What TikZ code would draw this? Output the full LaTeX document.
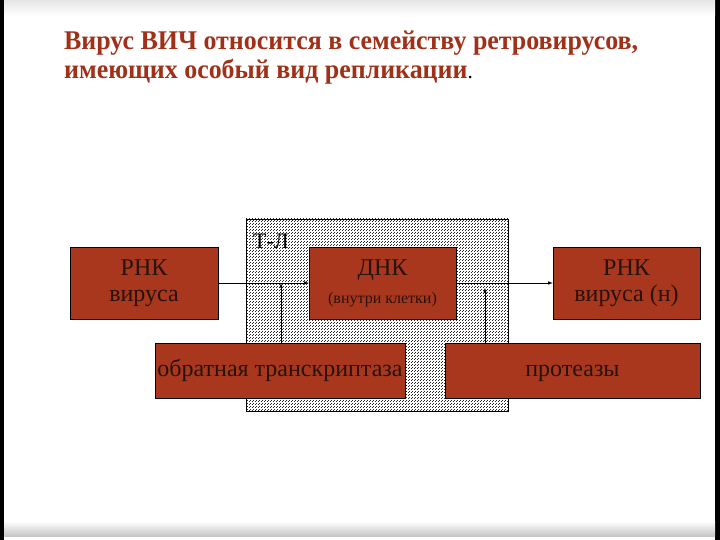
\documentclass[tikz,border=0pt]{standalone}
\usepackage{fontspec}
\setmainfont{Liberation Serif}
\newfontfamily\titlefont[FakeStretch=0.96]{Liberation Serif}
\usetikzlibrary{positioning,patterns}
\definecolor{brick}{RGB}{168,55,30}
\definecolor{titlered}{RGB}{160,48,24}
\definecolor{boxtext}{RGB}{40,18,12}
\pgfdeclarepatternformonly{celldots}{\pgfqpoint{0pt}{0pt}}{\pgfqpoint{3pt}{3pt}}{\pgfqpoint{3pt}{3pt}}{%
  \pgfpathrectangle{\pgfqpoint{0pt}{0pt}}{\pgfqpoint{1pt}{1pt}}%
  \pgfpathrectangle{\pgfqpoint{1.5pt}{1.5pt}}{\pgfqpoint{1pt}{1pt}}%
  \pgfusepath{fill}}
\tikzset{block/.style={draw=black,fill=brick,text=boxtext,align=center,inner sep=0pt,
                       font=\fontsize{24}{29}\selectfont},
         cellbox/.style={draw=black,thin,preaction={fill=white},pattern=celldots,pattern color=black!85}
}
\tikzstyle{arrow} = [semithick,-latex]

\begin{document}
\begin{tikzpicture}[x=1pt,y=-1pt]
\useasboundingbox (0,0) rectangle (720,540);
% slide frame
\fill[black] (0,0) rectangle (4,540);
\fill[black] (715,0) rectangle (720,540);
\shade[top color=gray!20,bottom color=white] (4,0) rectangle (715,16);
\shade[top color=white,bottom color=gray!45] (4,521) rectangle (715,536);

\node[anchor=north west,inner sep=0pt,align=left,text=titlered,
      font=\titlefont\bfseries\fontsize{27}{29}\selectfont] (title) at (64,31)
  {Вирус ВИЧ относится в семейству ретровирусов,\\
   имеющих особый вид репликации{\color{black}\mdseries\fontsize{22}{29}\selectfont.}};

\node[cellbox,minimum width=262,minimum height=192] (cell) at (377,315) {};
\node[anchor=north west,inner sep=0pt,font=\fontsize{22}{26}\selectfont] (tl) at (253,234) {Т-Л};

\node[block,minimum width=148,minimum height=72] (rnk) at (144,283) {\raisebox{-3pt}{РНК}\\вируса};
\node[block,minimum width=147,minimum height=72] (dnk) at (382.5,283)
  {\raisebox{-3pt}{ДНК}\\[2pt]{\fontsize{16}{18}\selectfont (внутри клетки)}};
\node[block,minimum width=147,minimum height=72] (rnkn) at (626.5,283) {\raisebox{-3pt}{РНК}\\вируса (н)};
\node[block,minimum width=250,minimum height=55] (rt) at (280,370.5) {обратная транскриптаза\strut};
\node[block,minimum width=255,minimum height=55] (prot) at (572.5,370.5) {протеазы\strut};

\coordinate (rtup) at (281,283);
\coordinate (protup) at (485,288);
\draw[arrow] (rnk) -- (dnk);
\draw[arrow] (dnk) -- (rnkn);
\draw[arrow] (rt.north -| rtup) -- (rtup);
\draw[arrow] (prot.north -| protup) -- (protup);

\end{tikzpicture}
\end{document}
